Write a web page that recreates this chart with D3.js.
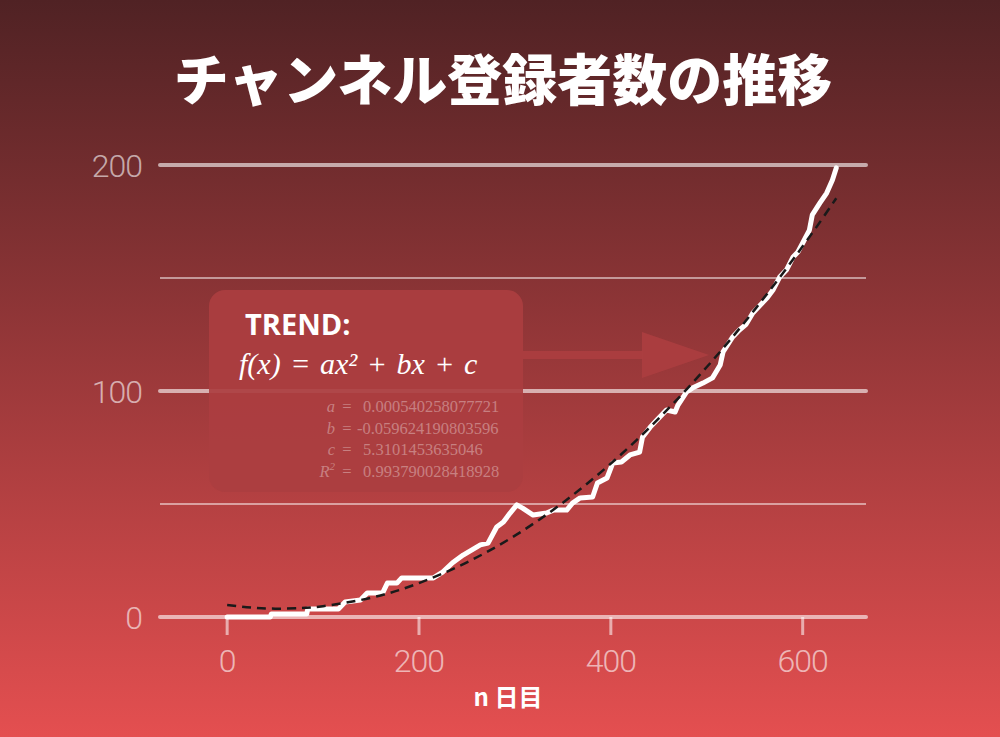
<!DOCTYPE html>
<html>
<head>
<meta charset="utf-8">
<script src="https://cdn.jsdelivr.net/npm/d3@7"></script>
<style>
  html, body { margin: 0; padding: 0; background: #000; }
  svg { display: block; }
</style>
</head>
<body>
<svg id="chart" width="1000" height="737"></svg>
<script>
// ---------- data ----------
const title = "チャンネル登録者数の推移";
const xLabel = "n 日目";
const xTicks = [0, 200, 400, 600];
const yTicksMajor = [0, 100, 200];
const yTicksMinor = [50, 150];

// subscribers per day
const days = [0, 45, 46, 83, 84, 116, 123, 139, 146, 162, 167, 177, 182, 215, 225, 235, 246, 264, 272, 281, 288, 295, 302, 308, 319, 333, 340, 354, 360, 368, 381, 386, 396, 402, 411, 420, 430, 433, 441, 448, 458, 467, 470, 479, 485, 496, 506, 514, 517, 527, 534, 541, 548, 558, 563, 569, 576, 583, 590, 595, 600, 607, 610, 618, 625, 631, 635];
const subscribers = [0, 0, 1.3, 1.3, 3.5, 3.5, 6.6, 7.5, 10.6, 10.6, 15, 15, 17.3, 17.3, 20, 24, 27.4, 31.9, 32.7, 39.8, 42, 46, 49.6, 48.2, 45.1, 46, 47.3, 47.3, 50.4, 52.7, 53.1, 59.3, 61.5, 68.1, 68.6, 71.7, 73, 79.6, 84, 87.2, 91.6, 90.7, 93.8, 99.6, 101.3, 103.5, 105.8, 111.5, 117.3, 123.9, 127, 129.5, 134.5, 139, 141.2, 144.7, 150.4, 153.5, 159.3, 161.5, 165.5, 171.2, 177.9, 183.2, 187.6, 193.4, 198.7];

// trend curve points
const trendDays = [0, 25, 50, 75, 100, 150, 200, 250, 300, 350, 400, 450, 500, 550, 600, 635];
const trendValues = [5.3, 4.2, 3.7, 3.9, 4.8, 8.5, 15.0, 24.2, 36.0, 50.6, 67.9, 87.9, 110.6, 136.0, 164.0, 185.3];

const trendTitle = "TREND";
const coefLabels = ["a", "b", "c", "R"];
const coefValues = ["0.000540258077721", "-0.059624190803596", "5.3101453635046", "0.993790028418928"];

// ---------- drawing ----------
const W = 1000, H = 737;
const svg = d3.select("#chart");

const defs = svg.append("defs");
const grad = defs.append("linearGradient").attr("id", "bg")
  .attr("x1", 0).attr("y1", 0).attr("x2", 0).attr("y2", 1);
grad.append("stop").attr("offset", "0%").attr("stop-color", "#502224");
grad.append("stop").attr("offset", "100%").attr("stop-color", "#e44f50");
svg.append("rect").attr("width", W).attr("height", H).attr("fill", "url(#bg)");

const x = d3.scaleLinear().domain([-70, 666]).range([160, 866]);
const y = d3.scaleLinear().domain([0, 200]).range([617, 165]);

// title
svg.append("text")
  .attr("x", 503).attr("y", 100)
  .attr("text-anchor", "middle")
  .attr("font-family", "'Noto Sans CJK JP', 'Noto Sans', sans-serif")
  .attr("font-weight", 900)
  .attr("font-size", 55)
  .attr("fill", "#ffffff")
  .text(title);

// gridlines
const g = svg.append("g");
g.selectAll("line.minor").data(yTicksMinor).enter().append("line")
  .attr("x1", x.range()[0]).attr("x2", x.range()[1])
  .attr("y1", d => y(d)).attr("y2", d => y(d))
  .attr("stroke", "rgba(255,255,255,0.5)").attr("stroke-width", 2);
g.selectAll("line.major").data(yTicksMajor).enter().append("line")
  .attr("x1", x.range()[0]).attr("x2", x.range()[1])
  .attr("y1", d => y(d)).attr("y2", d => y(d))
  .attr("stroke", "rgba(255,255,255,0.6)").attr("stroke-width", 4)
  .attr("stroke-linecap", "round");

// y tick labels
g.selectAll("text.yt").data(yTicksMajor).enter().append("text")
  .attr("x", 142).attr("y", d => y(d))
  .attr("dy", "0.36em")
  .attr("text-anchor", "end")
  .attr("font-family", "Roboto, 'Noto Sans', sans-serif")
  .attr("font-weight", 300)
  .attr("font-size", 32)
  .attr("letter-spacing", -1)
  .attr("fill", "rgba(255,255,255,0.6)")
  .text(d => d);

// x ticks
g.selectAll("line.xt").data(xTicks).enter().append("line")
  .attr("x1", d => x(d)).attr("x2", d => x(d))
  .attr("y1", y(0)).attr("y2", y(0) + 18)
  .attr("stroke", "rgba(255,255,255,0.55)").attr("stroke-width", 3);
g.selectAll("text.xt").data(xTicks).enter().append("text")
  .attr("x", d => x(d)).attr("y", 672)
  .attr("text-anchor", "middle")
  .attr("font-family", "Roboto, 'Noto Sans', sans-serif")
  .attr("font-weight", 300)
  .attr("font-size", 32)
  .attr("letter-spacing", -1)
  .attr("fill", "rgba(255,255,255,0.6)")
  .text(d => d);

// x axis title
svg.append("text")
  .attr("x", 508).attr("y", 706)
  .attr("text-anchor", "middle")
  .attr("font-family", "'Noto Sans CJK JP', 'Noto Sans', sans-serif")
  .attr("font-weight", 700)
  .attr("font-size", 24)
  .attr("fill", "#ffffff")
  .text(xLabel);

// trend box + arrow
const boxFill = "#ab3e40";
const box = svg.append("g");
box.append("rect")
  .attr("x", 209).attr("y", 290).attr("width", 314).attr("height", 202)
  .attr("rx", 16).attr("ry", 16)
  .attr("fill", boxFill).attr("opacity", 0.92);
box.append("rect")
  .attr("x", 523).attr("y", 351).attr("width", 120).attr("height", 8)
  .attr("fill", boxFill).attr("opacity", 0.92);
box.append("path")
  .attr("d", "M642,332 L709,355 L642,378 Z")
  .attr("fill", boxFill).attr("opacity", 0.92);

box.append("text")
  .attr("x", 245).attr("y", 335)
  .attr("font-family", "'Open Sans', 'Noto Sans', sans-serif")
  .attr("font-weight", 700)
  .attr("font-size", 29)
  .attr("fill", "#ffffff")
  .text(trendTitle + ":");

box.append("text")
  .attr("x", 239).attr("y", 374)
  .attr("font-family", "'Liberation Serif', 'DejaVu Serif', serif")
  .attr("font-style", "italic")
  .attr("font-size", 30)
  .attr("word-spacing", 2)
  .attr("fill", "#ffffff")
  .text("f(x) = ax² + bx + c");

const baseY = 412, rowH = 21.7;
coefLabels.forEach((lab, i) => {
  const ty = baseY + i * rowH;
  const t = box.append("text")
    .attr("x", 335).attr("y", ty)
    .attr("text-anchor", "end")
    .attr("font-family", "'Liberation Serif', serif")
    .attr("font-style", "italic")
    .attr("font-size", 16.5)
    .attr("fill", "rgba(255,255,255,0.35)");
  t.append("tspan").text(lab);
  if (lab === "R") {
    t.append("tspan").attr("font-size", 11).attr("dy", -7).text("2");
  }
  box.append("text")
    .attr("x", 347).attr("y", ty)
    .attr("text-anchor", "middle")
    .attr("font-family", "'Liberation Serif', serif")
    .attr("font-size", 16.5)
    .attr("fill", "rgba(255,255,255,0.35)")
    .text("=");
  const v = coefValues[i];
  box.append("text")
    .attr("x", v.startsWith("-") ? 357 : 363).attr("y", ty)
    .attr("font-family", "'Liberation Serif', serif")
    .attr("font-size", 16.5)
    .attr("fill", "rgba(255,255,255,0.35)")
    .text(v);
});

// data line
const lineData = days.map((d, i) => [d, subscribers[i]]);
const line = d3.line().x(d => x(d[0])).y(d => y(d[1])).curve(d3.curveLinear);
svg.append("path")
  .datum(lineData)
  .attr("d", line)
  .attr("fill", "none")
  .attr("stroke", "#ffffff")
  .attr("stroke-width", 5)
  .attr("stroke-linejoin", "round")
  .attr("stroke-linecap", "round");

// trend line
const trendData = trendDays.map((d, i) => [d, trendValues[i]]);
const tline = d3.line().x(d => x(d[0])).y(d => y(d[1])).curve(d3.curveNatural);
svg.append("path")
  .datum(trendData)
  .attr("d", tline)
  .attr("fill", "none")
  .attr("stroke", "#1a1a1a")
  .attr("stroke-width", 2.5)
  .attr("stroke-dasharray", "9,6");
</script>
</body>
</html>
